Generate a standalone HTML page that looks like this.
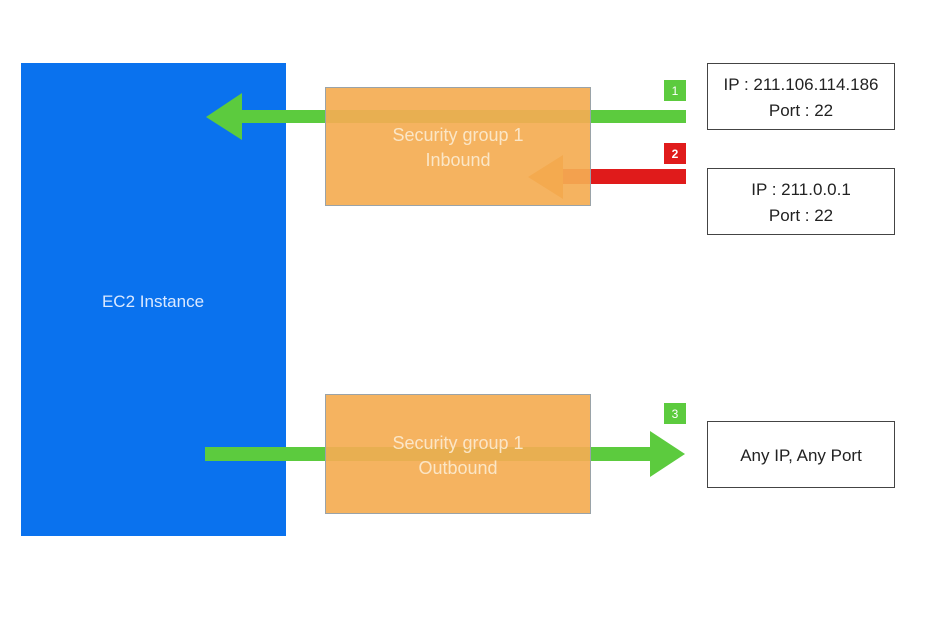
<!DOCTYPE html>
<html><head><meta charset="utf-8"><style>
html,body{margin:0;padding:0;background:#fff;width:937px;height:628px;overflow:hidden}
svg{display:block;font-family:"Liberation Sans","DejaVu Sans",sans-serif}
</style></head><body>
<svg width="937" height="628" viewBox="0 0 937 628" xmlns="http://www.w3.org/2000/svg">
<rect x="0" y="0" width="937" height="628" fill="#fff"/>
<rect x="21" y="63" width="265" height="473" fill="#0a72ee"/>
<text x="153" y="307" font-size="17" fill="#dbe9ff" text-anchor="middle">EC2 Instance</text>
<rect x="240" y="110" width="446" height="13" fill="#5ccb3e"/>
<polygon points="206,117 242,93 242,140" fill="#5ccb3e"/>
<rect x="560" y="169" width="126" height="15" fill="#e01b1b"/>
<polygon points="528,177 563,155 563,199" fill="#ee8c2a"/>
<rect x="205" y="447" width="447" height="14" fill="#5ccb3e"/>
<polygon points="685,454 650,431 650,477" fill="#5ccb3e"/>
<rect x="325.5" y="87.5" width="265" height="118" fill="#f4ad52" fill-opacity="0.92" stroke="#9aa3a8" stroke-width="1"/>
<rect x="325.5" y="394.5" width="265" height="119" fill="#f4ad52" fill-opacity="0.92" stroke="#9aa3a8" stroke-width="1"/>
<text x="458" y="141" font-size="18" fill="#fbe6c6" text-anchor="middle">Security group 1</text>
<text x="458" y="166" font-size="18" fill="#fbe6c6" text-anchor="middle">Inbound</text>
<text x="458" y="449" font-size="18" fill="#fbe6c6" text-anchor="middle">Security group 1</text>
<text x="458" y="474" font-size="18" fill="#fbe6c6" text-anchor="middle">Outbound</text>
<rect x="664" y="80" width="22" height="21" fill="#5ccb3e"/>
<text x="675" y="95" font-size="12" fill="#fff" text-anchor="middle">1</text>
<rect x="664" y="143" width="22" height="21" fill="#e01b1b"/>
<text x="675" y="158" font-size="12" fill="#fff" text-anchor="middle" font-weight="bold">2</text>
<rect x="664" y="403" width="22" height="21" fill="#5ccb3e"/>
<text x="675" y="418" font-size="12" fill="#fff" text-anchor="middle">3</text>
<rect x="707.5" y="63.5" width="187" height="66" fill="#fff" stroke="#444" stroke-width="1"/>
<text x="801" y="90" font-size="17" fill="#222" text-anchor="middle">IP : 211.106.114.186</text>
<text x="801" y="116" font-size="17" fill="#222" text-anchor="middle">Port : 22</text>
<rect x="707.5" y="168.5" width="187" height="66" fill="#fff" stroke="#444" stroke-width="1"/>
<text x="801" y="195" font-size="17" fill="#222" text-anchor="middle">IP : 211.0.0.1</text>
<text x="801" y="221" font-size="17" fill="#222" text-anchor="middle">Port : 22</text>
<rect x="707.5" y="421.5" width="187" height="66" fill="#fff" stroke="#444" stroke-width="1"/>
<text x="801" y="461" font-size="17" fill="#222" text-anchor="middle">Any IP, Any Port</text>
</svg>
</body></html>
